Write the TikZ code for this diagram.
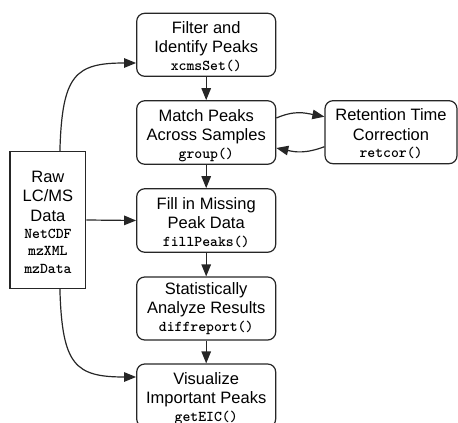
\documentclass[tikz,border=0pt]{standalone}
\usepackage{fontspec}
\setmainfont{Liberation Sans}
\usetikzlibrary{arrows.meta,calc}
\newcommand{\cd}[1]{{\fontsize{15}{17}\selectfont\ttfamily\bfseries #1}}
\newcommand{\tx}[4]{\rule{0pt}{#1pt}#2\\#3\\[-1.8pt]\cd{#4}\rule[-6pt]{0pt}{6pt}}
\tikzset{
  box/.style={draw=black!85, line width=1.2pt, rounded corners=8pt, minimum width=139pt, minimum height=63pt,
    align=center, inner sep=0pt, font=\fontsize{16.5}{19.4}\selectfont},
  rawbox/.style={draw=black!85, line width=1.2pt, minimum width=75.7pt, minimum height=136.6pt,
    align=center, inner sep=0pt, font=\fontsize{16.5}{19.4}\selectfont},
  arr/.style={draw=black!85, line width=1.2pt, -{Triangle[length=12pt,width=9.5pt]}},
}
\begin{document}
\begin{tikzpicture}[x=1pt,y=-1pt]
\useasboundingbox (0,0) rectangle (458,423);
\clip (0,0) rectangle (458,423);
\node[box] (filter) at (206.2,44.8) {\tx{20}{Filter and}{Identify Peaks}{xcmsSet()}};
\node[box] (match) at (206.2,132.5) {\tx{20.5}{Match Peaks}{Across Samples}{group()}};
\node[box] (fill) at (206.2,220.5) {\tx{20.5}{Fill in Missing}{Peak Data}{fillPeaks()}};
\node[box] (stat) at (206.2,308.5) {\tx{15}{Statistically}{Analyze Results}{diffreport()}};
\node[box] (vis) at (206.2,395.5) {\tx{20}{Visualize}{Important Peaks}{getEIC()}};
\node[box, minimum width=132pt] (ret) at (391,132.2) {\tx{20}{Retention Time}{Correction}{retcor()}};
\node[rawbox] (raw) at (47.9,220) {\rule{0pt}{21.6pt}Raw\\LC/MS\\Data\\[-2pt]\cd{NetCDF}\\[-2pt]\cd{mzXML}\\[-2pt]\cd{mzData}\rule[-6pt]{0pt}{6pt}};
\draw[arr] (filter) -- (match);
\draw[arr] (match) -- (fill);
\draw[arr] (fill) -- (stat);
\draw[arr] (stat) -- (vis);
\draw[arr] (raw.east) -- (fill.west);
\draw[arr] ($(raw.north)+(12,0)$) .. controls (62,75) and (75,63) .. ($(filter.west)+(0,18.2)$);
\draw[arr] ($(raw.south)+(12,0)$) .. controls (62,365) and (75,377) .. ($(vis.west)+(0,-18.5)$);
\draw[arr] ($(match.east)+(0,-14.5)$) .. controls (295,110) and (305,113) .. ($(ret.west)+(0,-15.5)$);
\draw[arr] ($(ret.west)+(0,14.5)$) .. controls (305,154) and (295,152) .. ($(match.east)+(0,15.5)$);
\end{tikzpicture}
\end{document}
